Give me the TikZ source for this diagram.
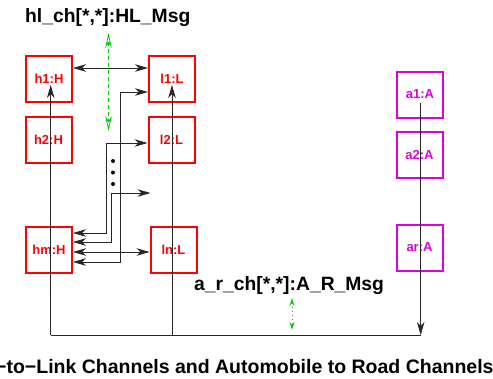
\documentclass[tikz,border=0pt]{standalone}
\usepackage{fontspec}
\setmainfont{Liberation Sans}
\usetikzlibrary{arrows.meta}
\definecolor{figgreen}{RGB}{0,200,0}
\definecolor{figmag}{RGB}{220,0,220}
\begin{document}
\begin{tikzpicture}[x=1pt,y=-1pt,
  hbox/.style={draw=red, line width=2pt, minimum width=46pt, minimum height=46pt,
    inner sep=0pt, text=red, font=\fontsize{13}{15}\selectfont\bfseries},
  abox/.style={hbox, draw=figmag, text=figmag},
  conn/.style={line width=0.8pt, draw=black!85},
  onetip/.style={-{Stealth[length=13pt,width=7.5pt,inset=4pt]}},
  twotip/.style={{Stealth[length=13pt,width=7.5pt,inset=4pt]}-{Stealth[length=13pt,width=7.5pt,inset=4pt]}},
  greenarr/.style={figgreen, line width=0.8pt,
    {Stealth[open,length=15pt,width=6.5pt,inset=5pt]}-{Stealth[open,length=15pt,width=6.5pt,inset=5pt]}},
  smallgreen/.style={figgreen, line width=0.8pt,
    {Stealth[open,length=8pt,width=5pt,inset=3pt]}-{Stealth[open,length=8pt,width=5pt,inset=3pt]}},
  bigtext/.style={font=\fontsize{19.3}{22}\selectfont\bfseries, inner sep=0pt},
  captext/.style={font=\fontsize{19.5}{23}\selectfont\bfseries, inner sep=0pt}
]
\useasboundingbox (0,0) rectangle (493,378);

% titles
\node[bigtext, anchor=base west] (title) at (25,22) {hl\_ch[*,*]:HL\_Msg};
\node[bigtext, anchor=base west] (artitle) at (194,290) {a\_r\_ch[*,*]:A\_R\_Msg};
\node[captext, anchor=base west] (caption) at (-5,373) {−to−Link Channels and Automobile to Road Channels};

% boxes
\node[hbox] (h1) at (49,79) {h1:H};
\node[hbox] (l1) at (172,79) {l1:L};
\node[hbox] (h2) at (48.5,140) {h2:H};
\node[hbox] (l2) at (171.5,140) {l2:L};
\node[hbox] (hm) at (49,250) {hm:H};
\node[hbox] (ln) at (173.5,250) {ln:L};
\node[abox] (a1) at (420,94.5) {a1:A};
\node[abox] (a2) at (419.5,155) {a2:A};
\node[abox] (ar) at (419.5,247.5) {ar:A};

% long lines
\coordinate (hbot) at (50.7,335);
\coordinate (htip) at (50.7,85);
\coordinate (lbot) at (172,335);
\coordinate (ltip) at (172,85);
\coordinate (atop) at (420.7,103);
\coordinate (abot) at (420.7,335);
\draw[conn,onetip] (hbot) -- (htip);
\draw[conn,onetip] (lbot) -- (ltip);
\draw[conn] (hbot) -- (abot);
\draw[conn,onetip] (atop) -- (abot);

% h1 <-> l1
\draw[conn,twotip] ([yshift=11pt]h1.east) -- ([yshift=11pt]l1.west);

% inner connectors
\coordinate (Av) at (106.7,143);
\coordinate (Bv) at (111.5,193);
\coordinate (Bend) at (150.5,193);
\coordinate (Dv) at (120.7,92);
\draw[conn,twotip] ([yshift=17pt]hm.east) -| (Av) -- (Av -| l2.west);
\draw[conn,twotip] ([yshift=8pt]hm.east) -| (Bv) -- (Bend);
\draw[conn,twotip] ([yshift=-2pt]hm.east) -- ([yshift=-2pt]ln.west);
\draw[conn,twotip] ([yshift=-12pt]hm.east) -| (Dv) -- (Dv -| l1.west);

% dots
\fill (113,161) circle (2);
\fill (113,172.5) circle (2);
\fill (113,184) circle (2);

% green arrows
\coordinate (g1a) at (108.5,33);
\coordinate (g1b) at (108.5,131);
\draw[greenarr, dash pattern=on 4pt off 3pt] (g1a) -- (g1b);
\coordinate (g2a) at (292,298);
\coordinate (g2b) at (292,330);
\draw[smallgreen, dash pattern=on 1pt off 3pt] (g2a) -- (g2b);
\end{tikzpicture}
\end{document}
